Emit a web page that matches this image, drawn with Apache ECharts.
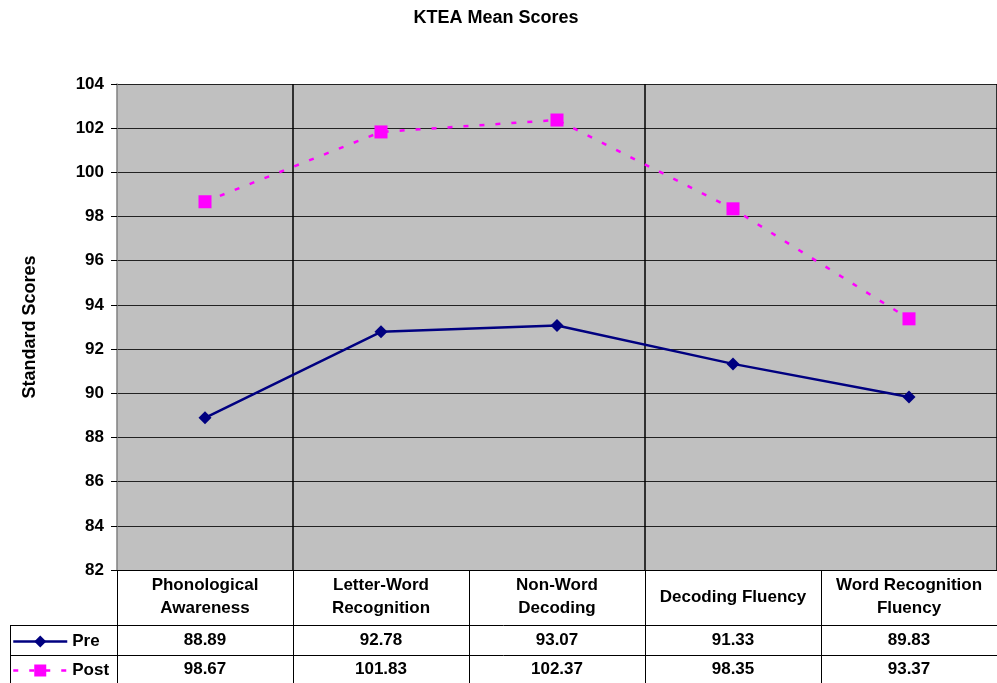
<!DOCTYPE html>
<html><head><meta charset="utf-8">
<script src="https://cdn.jsdelivr.net/npm/echarts@6/dist/echarts.min.js"></script>
<style>html,body{margin:0;padding:0;background:#fff}#c{width:997px;height:683px}</style>
</head><body><div id="c"></div>
<script>
const categories = ["Phonological\nAwareness", "Letter-Word\nRecognition", "Non-Word\nDecoding", "Decoding Fluency", "Word Recognition\nFluency"];
const preValues = [88.89, 92.78, 93.07, 91.33, 89.83];
const postValues = [98.67, 101.83, 102.37, 98.35, 93.37];
const yTicks = {min: 82, max: 104, interval: 2};

const W = 997, H = 683;
const gridL = 117, gridT = 84, gridB = 113;
const plotBottom = H - gridB;
const colW = (W - gridL) / categories.length;
const row1 = 625, row2 = 655, tableLeft = 10;

const chart = echarts.init(document.getElementById('c'), null, {renderer: 'canvas'});
const F = 'Arial, "Liberation Sans", sans-serif';
const FS = 17;

const lines = [];
function hline(x1, x2, y) { lines.push({type: 'line', shape: {x1, y1: y, x2, y2: y}, style: {stroke: '#000', lineWidth: 1}, silent: true}); }
function vline(x, y1, y2) { lines.push({type: 'line', shape: {x1: x, y1, x2: x, y2}, style: {stroke: '#000', lineWidth: 1}, silent: true}); }
hline(tableLeft, W, row1 + 0.5);
hline(tableLeft, W, row2 + 0.5);
vline(tableLeft + 0.5, row1, H);
for (let i = 0; i < categories.length; i++) vline(Math.round(gridL + i * colW) + 0.5, plotBottom, H);

const legendText = {fontFamily: F, fontSize: FS, fontWeight: 'bold', color: '#000'};

chart.setOption({
  animation: false,
  backgroundColor: '#fff',
  title: {text: 'KTEA Mean Scores', left: 491, top: 4, textAlign: 'center',
    textStyle: {fontFamily: F, fontSize: 18, fontWeight: 'bold', color: '#000'}},
  grid: {left: gridL, right: 0, top: gridT, bottom: gridB, show: true, backgroundColor: '#C0C0C0', borderWidth: 0},
  legend: [
    {left: 12, top: 633, padding: 0, itemWidth: 54, itemHeight: 15, textStyle: legendText, data: ['Pre'], lineStyle: {width: 2.5}},
    {left: 12, top: 662, padding: 0, itemWidth: 54, itemHeight: 15, textStyle: legendText, data: ['Post'], lineStyle: {width: 2.5}}
  ],
  xAxis: {type: 'category', data: categories, boundaryGap: true,
    axisLine: {show: true, lineStyle: {color: '#000', width: 1}},
    axisTick: {show: false},
    splitLine: {show: true, interval: (i) => i === 1 || i === 3, lineStyle: {color: '#000', width: 1.5}},
    axisLabel: {interval: 0, margin: 4, fontFamily: F, color: '#000',
      formatter: (v, i) => {
        const parts = v.split('\n');
        let s = parts.length === 1 ? '{h2|' + parts[0] + '}' : parts.map(p => '{h|' + p + '}').join('\n');
        s += '\n{s| }\n{v|' + preValues[i].toFixed(2) + '}\n{v|' + postValues[i].toFixed(2) + '}';
        return s;
      },
      rich: {
        h: {fontFamily: F, fontSize: FS, fontWeight: 'bold', lineHeight: 23, color: '#000'},
        h2: {fontFamily: F, fontSize: FS, fontWeight: 'bold', lineHeight: 46, color: '#000'},
        s: {fontSize: 1, lineHeight: 6},
        v: {fontFamily: F, fontSize: FS, fontWeight: 'bold', lineHeight: 29, color: '#000'}
      }}},
  yAxis: {type: 'value', min: yTicks.min, max: yTicks.max, interval: yTicks.interval,
    name: 'Standard Scores', nameLocation: 'middle', nameGap: 78,
    nameTextStyle: {fontFamily: F, fontSize: 18, fontWeight: 'bold', color: '#000'},
    axisLine: {show: true, lineStyle: {color: '#808080', width: 1.5}},
    axisTick: {show: true, length: 6, lineStyle: {color: '#000'}},
    axisLabel: {margin: 13, fontFamily: F, fontSize: FS, fontWeight: 'bold', color: '#000'},
    splitLine: {show: true, lineStyle: {color: '#222', width: 1}}},
  series: [
    {name: 'Pre', type: 'line', data: preValues, symbol: 'diamond', symbolSize: 13,
      lineStyle: {color: '#000080', width: 2.5}, itemStyle: {color: '#000080'}},
    {name: 'Post', type: 'line', data: postValues, symbol: 'rect', symbolSize: 13,
      lineStyle: {color: '#FF00FF', width: 2.5, type: [5, 11]}, itemStyle: {color: '#FF00FF'}}
  ],
  graphic: lines
});
</script></body></html>
